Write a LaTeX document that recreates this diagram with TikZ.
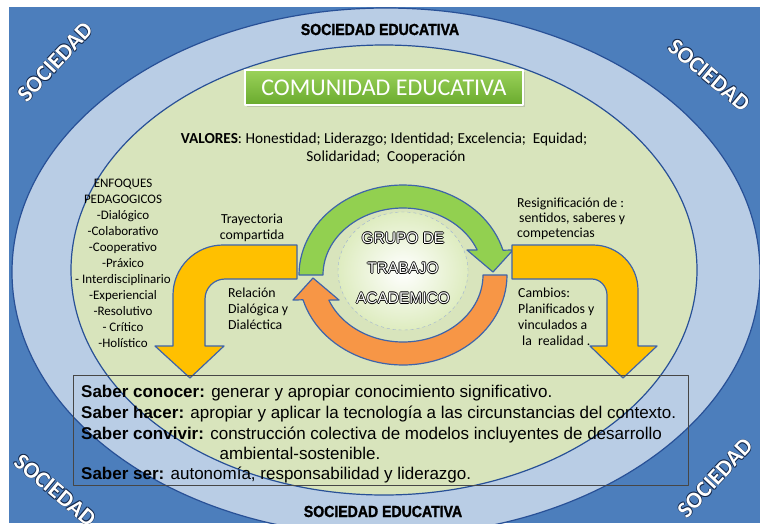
\documentclass[tikz,border=0pt]{standalone}
\usepackage{fontspec}
\setmainfont{Carlito}
\newfontfamily\arialfont{Liberation Sans}
\newfontfamily\socfont[FakeStretch=0.88,FakeBold=1.5]{Liberation Sans}
\usetikzlibrary{shapes.geometric,shadows}
\definecolor{socblue}{RGB}{76,126,188}
\definecolor{bandblue}{RGB}{185,205,229}
\definecolor{edgeblue}{RGB}{40,80,150}
\definecolor{comgreen}{RGB}{216,228,188}
\definecolor{arrowline}{RGB}{62,100,170}
\definecolor{yelarrow}{RGB}{255,192,0}
\definecolor{grnarrow}{RGB}{146,208,80}
\definecolor{orgarrow}{RGB}{247,150,70}
\definecolor{circedge}{RGB}{222,236,192}
\definecolor{boxline}{RGB}{70,70,70}
% outlined letters: #1 outline, #2 fill
\newcommand\hollow[3]{\leavevmode\rlap{\kern-.8pt\textcolor{#1}{#3}}\rlap{\kern.8pt\textcolor{#1}{#3}}%
  \rlap{\raisebox{.8pt}{\textcolor{#1}{#3}}}\rlap{\raisebox{-.8pt}{\textcolor{#1}{#3}}}\textcolor{#2}{#3}}
\begin{document}
\begin{tikzpicture}[x=1pt,y=-1pt,line join=round,
  lbl/.style={inner sep=0pt,font=\fontsize{13.8}{16}\selectfont},
  arrowbox/.style={draw=arrowline,line width=1.2pt},
  soc/.style={inner sep=0pt,font=\bfseries\fontsize{23}{24}\selectfont},
  saber/.style={anchor=base west,inner sep=0pt,font=\arialfont\fontsize{17}{19}\selectfont}]
	\useasboundingbox (0,0) rectangle (760,523);
	\fill[white] (0,0) rectangle (760,523);
	\fill[socblue] (9,7) rectangle (760,523);
	\begin{scope}
		\clip (9,7) rectangle (760,523);
		\draw[fill=bandblue,draw=edgeblue,line width=1.2pt] (386,272) ellipse [x radius=374pt,y radius=264pt];
	\end{scope}
	\draw[fill=comgreen,draw=edgeblue,line width=1.2pt] (384,270) ellipse [x radius=313pt,y radius=225pt];
	% titles
	\node[font=\socfont\bfseries\fontsize{16}{18}\selectfont,anchor=base] (socedu1) at (380,35) {SOCIEDAD EDUCATIVA};
	\node[font=\socfont\bfseries\fontsize{16}{18}\selectfont,anchor=base] (socedu2) at (383,517) {SOCIEDAD EDUCATIVA};
	\node[soc,rotate=47] (socTL) at (55,62) {\hollow{edgeblue!50!black}{white}{SOCIEDAD}};
	\node[soc,rotate=-40] (socTR) at (709,75) {\hollow{edgeblue!50!black}{white}{SOCIEDAD}};
	\node[soc,rotate=-40] (socBL) at (55,490) {\hollow{edgeblue!50!black}{white}{SOCIEDAD}};
	\node[soc,rotate=47] (socBR) at (715,478) {\hollow{edgeblue!50!black}{white}{SOCIEDAD}};
	\node[draw=white,line width=2pt,top color={rgb,255:red,155;green,210;blue,90},bottom color={rgb,255:red,105;green,170;blue,45},
		minimum width=278pt,minimum height=35pt,text=white,font=\fontsize{24}{26}\selectfont,drop shadow={opacity=.3}] (comunidad) at (384,87.5) {COMUNIDAD EDUCATIVA};
	\node[lbl,anchor=base,font=\fontsize{15.3}{18}\selectfont] (valores1) at (384,143) {\textbf{VALORES}: Honestidad; Liderazgo; Identidad; Excelencia;\ \ Equidad;};
	\node[lbl,anchor=base,font=\fontsize{15.3}{18}\selectfont] (valores2) at (386,161) {Solidaridad;\ \ Cooperación};
	% ciclo
	\draw[arrowbox,fill=orgarrow] plot[domain=0:-164,samples=50] ({403+104*cos(\x)},{275-90*sin(\x)}) -- (293,300) -- (313,278) -- (339,300)
		-- plot[domain=-158:0,samples=50] ({403+80*cos(\x)},{275-67*sin(\x)}) -- cycle;
	\draw[arrowbox,fill=grnarrow] plot[domain=180:16,samples=50] ({403+104*cos(\x)},{275-90*sin(\x)}) -- (513,250) -- (493,272) -- (467,250)
		-- plot[domain=22:180,samples=50] ({403+80*cos(\x)},{275-67*sin(\x)}) -- cycle;
	\node[ellipse,draw=arrowline!50,dashed,inner color=white,outer color=circedge,minimum width=130pt,minimum height=118pt] (grupo) at (403,271) {};
	\node[font=\arialfont\fontsize{15.5}{30}\selectfont,align=center] (grupotxt) at (403,268)
		{\hollow{black}{white}{GRUPO DE}\\\hollow{black}{white}{TRABAJO}\\\hollow{black}{white}{ACADEMICO}};
	% flechas amarillas
	\draw[arrowbox,fill=yelarrow] (297,245) -- (223,245) .. controls (195.4,245) and (173,267.4) .. (173,295) -- (173,346) -- (155,346)
		-- (190,378) -- (224,346) -- (205,346) -- (205,299) .. controls (205,288) and (213.9,279) .. (225,279) -- (297,279) -- cycle;
	\draw[arrowbox,fill=yelarrow] (512,245) -- (593,245) .. controls (617.9,245) and (638,265.1) .. (638,290) -- (638,346) -- (657,346)
		-- (623,378) -- (590,346) -- (607,346) -- (607,295) .. controls (607,286.7) and (600.3,279) .. (592,279) -- (512,279) -- cycle;
	% textos
	\foreach \t [count=\i] in {ENFOQUES,PEDAGOGICOS,-Dialógico,-Colaborativo,-Cooperativo,-Práxico,- Interdisciplinario,-Experiencial,-Resolutivo,- Crítico,-Holístico}
	\node[lbl,anchor=base,font=\fontsize{13}{16}\selectfont] (enfoque\i) at (123,{171+16*\i}) {\t};
	\foreach \t [count=\i] in {Trayectoria,compartida}
	\node[lbl,anchor=base] (trayec\i) at (252,{207+16*\i}) {\t};
	\foreach \t [count=\i] in {Relación,Dialógica y,Dialéctica}
	\node[lbl,anchor=base west] (relacion\i) at (228,{281+16*\i}) {\t};
	\foreach \t/\xx [count=\i] in {Resignificación de :/517,{sentidos, saberes y}/519,competencias/517}
	\node[lbl,anchor=base west] (resig\i) at (\xx,{192+15*\i}) {\t};
	\foreach \t/\xx [count=\i] in {Cambios:/518,Planificados y/518,vinculados a/518,{la\ \ realidad .}/522}
	\node[lbl,anchor=base west] (cambios\i) at (\xx,{281+16*\i}) {\t};
	% saberes
	\node[saber] (saber1) at (81,397) {\textbf{Saber conocer:} generar y apropiar conocimiento significativo.};
	\node[saber] (saber2) at (81,418) {\textbf{Saber hacer:} apropiar y aplicar la tecnología a las circunstancias del contexto.};
	\node[saber] (saber3) at (81,439) {\textbf{Saber convivir:} construcción colectiva de modelos incluyentes de desarrollo};
	\node[saber,anchor=base] (saber4) at (300,459) {ambiental-sostenible.};
	\node[saber] (saber5) at (81,479) {\textbf{Saber ser:} autonomía, responsabilidad y liderazgo.};
	\draw[boxline,line width=1pt] (73,375) rectangle (688,485);
\end{tikzpicture}
\end{document}
